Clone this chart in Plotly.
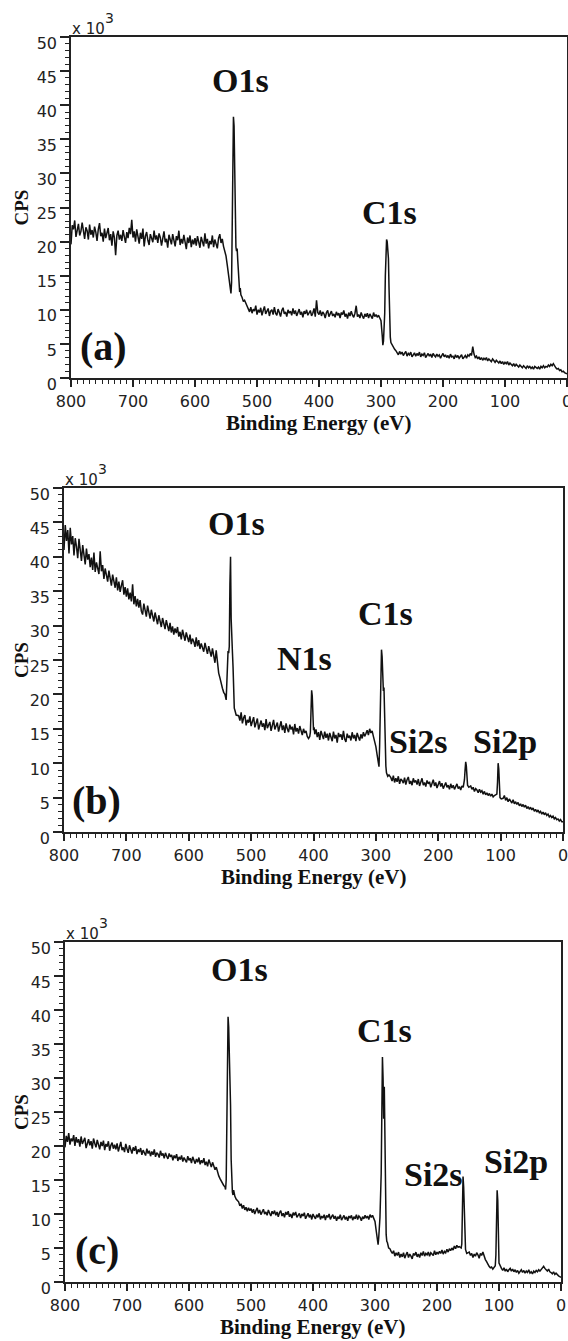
import plotly.graph_objects as go

# ---------------- data (counts in units of 10^3 CPS), background read every 2 eV ----------------
# Panel (a)
a_bg1_start = 800
a_bg1 = [19.6, 22.4, 21.8, 23.1, 20.7, 21.9, 22.6, 20.9, 21.5, 22.8,
         21.2, 20.4, 22.1, 21.6, 20.3, 22.5, 21.0, 21.7, 20.6, 22.2,
         21.4, 20.1, 21.8, 22.7, 20.8, 21.3, 20.0, 21.9, 20.5, 21.2,
         22.0, 20.2, 21.1, 19.4, 21.5, 20.6, 18.0, 20.9, 21.6, 20.3,
         21.0, 20.1, 21.7, 20.7, 19.8, 21.4, 20.5, 22.0, 21.1, 23.2,
         20.6, 21.5, 20.0, 21.8, 20.9, 19.7, 21.3, 20.4, 21.9, 19.3,
         20.8, 21.4, 20.2, 19.5, 21.1, 20.5, 19.9, 21.6, 20.3, 20.9,
         19.8, 21.2, 20.6, 19.4, 20.7, 21.5, 19.9, 20.4, 19.1, 21.0,
         20.3, 19.6, 21.1, 20.0, 19.3, 20.8, 20.2, 21.6, 19.5, 20.4,
         19.7, 21.0, 20.1, 18.9, 20.6, 19.8, 20.9, 19.2, 20.3, 19.6,
         20.5, 19.4, 20.8, 19.9, 19.1, 20.7, 20.0, 19.3, 21.2, 19.7,
         20.4, 19.0, 20.1, 19.6, 20.9, 19.2, 20.3, 19.8, 19.0, 20.5,
         21.1, 19.8, 20.4, 19.3, 18.6, 17.9, 16.6, 15.4, 14.0]
a_o1s_energy = [542, 541, 540, 539, 538, 537, 536, 535, 534, 533, 532, 531, 530, 529, 528, 527, 526, 524, 522]
a_o1s_cps = [12.4, 14.0, 20.0, 30.0, 38.3, 37.0, 30.0, 22.0, 19.2, 18.6, 19.0, 17.2, 15.0, 13.4, 12.6, 13.2, 12.2, 11.8, 11.2]
a_bg2_start = 520
a_bg2 = [11.4, 10.9, 10.6, 10.2, 9.7, 10.4, 9.5, 10.1, 9.8, 10.6,
         9.3, 10.0, 9.6, 10.3, 9.2, 9.9, 10.5, 9.4, 9.7, 10.2,
         9.1, 9.8, 10.0, 9.3, 10.4, 9.5, 9.2, 10.1, 9.6, 9.0,
         9.9, 10.3, 9.4, 9.7, 9.0, 10.0, 9.5, 9.8, 9.2, 10.2,
         9.4, 9.9, 9.1, 9.6, 10.1, 9.3, 9.7, 8.9, 9.8, 9.4,
         10.0, 9.2, 9.6, 9.9, 9.1, 9.5, 10.2, 9.0, 11.4, 9.6,
         9.3, 9.9, 9.1, 9.7, 9.4, 8.8, 9.6, 9.9, 9.0, 9.5,
         9.8, 9.1, 9.4, 8.9, 9.7, 9.2, 9.5, 8.8, 9.6, 9.3,
         9.9, 9.0, 9.4, 8.7, 9.6, 9.1, 9.8, 9.2, 8.9, 9.5,
         10.6, 9.0, 9.3, 8.8, 9.6, 9.1, 8.7, 9.4, 9.0, 9.5,
         8.8, 9.4, 9.1, 8.7, 9.6, 9.0, 9.3, 8.9, 9.2, 8.8, 8.4]
a_c1s_energy = [298, 297, 296, 295, 294, 293, 292, 291, 290, 289, 288, 287, 286, 285, 284, 282, 280, 278]
a_c1s_cps = [6.2, 4.8, 5.4, 7.0, 9.5, 15.0, 19.5, 20.3, 20.0, 19.2, 17.5, 13.0, 8.5, 6.0, 5.2, 4.8, 4.4, 4.2]
a_bg3_start = 276
a_bg3 = [4.0, 3.7, 3.4, 3.9, 3.5, 3.8, 3.3, 3.6, 3.9, 3.2,
         3.6, 3.4, 3.8, 3.1, 3.5, 3.7, 3.2, 3.6, 3.3, 3.8,
         3.1, 3.5, 3.3, 3.7, 3.0, 3.4, 3.6, 3.2, 3.5, 3.0,
         3.6, 3.3, 3.1, 3.5, 3.2, 3.4, 2.9, 3.3, 3.6, 3.1,
         3.4, 3.0, 3.3, 2.9, 3.5, 3.1, 3.2, 2.8, 3.4, 3.0,
         3.3, 2.9, 3.2, 3.4, 2.8, 3.1, 3.3, 2.9, 3.4, 3.2,
         3.6, 3.3, 4.6, 3.5, 3.0, 3.2, 2.8, 3.1, 2.7, 3.0,
         2.6, 2.9, 2.7, 3.0, 2.5, 2.8, 2.6, 2.4, 2.8, 2.5,
         2.3, 2.6, 2.4, 2.2, 2.5, 2.1, 2.4, 2.0, 2.3, 2.1,
         2.4, 1.9, 2.2, 2.0, 1.8, 2.1, 1.7, 2.0, 1.8, 1.6,
         1.9, 1.7, 1.5, 1.8, 1.6, 1.4, 1.8, 1.5, 1.7, 1.4,
         1.6, 1.3, 1.7, 1.5, 1.4, 1.6, 1.3, 1.7, 1.5, 1.8,
         1.5, 1.7, 1.6, 1.9, 1.7, 2.0, 1.8, 2.1, 1.7, 1.5,
         1.3, 1.4, 1.1, 1.2, 0.9, 1.0, 0.8, 0.7, 0.6]

# Panel (b)
b_bg1_start = 800
b_bg1 = [41.0, 44.6, 42.3, 43.9, 40.5, 44.2, 41.8, 43.0, 40.2, 42.7,
         41.5, 39.8, 42.6, 40.9, 39.4, 41.7, 40.3, 38.9, 41.2, 39.6,
         40.4, 38.5, 39.9, 38.1, 40.6, 37.8, 39.2, 38.4, 37.5, 40.8,
         37.9, 38.8, 36.8, 38.3, 37.2, 36.4, 38.0, 36.9, 35.8, 37.4,
         36.2, 35.5, 37.0, 35.1, 36.4, 34.9, 35.8, 36.6, 34.5, 35.6,
         34.2, 35.4, 33.8, 34.8, 33.5, 36.0, 33.1, 34.3, 32.8, 33.9,
         32.6, 33.7, 32.1, 31.6, 33.2, 32.4, 31.3, 32.9, 31.8, 31.0,
         32.3, 31.2, 30.6, 31.9, 30.9, 30.2, 31.5, 30.4, 29.8, 31.1,
         30.0, 29.5, 30.8, 29.7, 29.2, 30.4, 29.0, 29.9, 28.7, 29.6,
         28.9, 29.8, 28.4, 29.1, 28.0, 29.4, 28.6, 27.8, 29.0, 28.2,
         27.6, 28.7, 27.3, 28.1, 27.7, 26.9, 28.3, 27.0, 27.9, 26.6,
         27.4, 26.8, 26.2, 27.5, 26.4, 25.9, 27.0, 26.1, 25.5, 26.7,
         25.2, 24.6, 26.4, 24.2, 23.1, 22.4, 21.5, 20.9, 20.3]
b_o1s_energy = [542, 540, 539, 538, 537, 536, 535, 534, 533, 532, 531, 530, 529, 528, 527, 526, 524]
b_o1s_cps = [20.0, 19.2, 21.5, 26.0, 26.3, 26.0, 27.0, 36.0, 40.0, 31.0, 26.5, 26.2, 24.0, 19.5, 18.0, 17.7, 17.0]
b_bg2_start = 520
b_bg2 = [16.9, 16.2, 17.4, 15.8, 16.6, 17.0, 15.5, 16.3, 15.9, 16.8,
         15.4, 16.1, 16.7, 15.2, 15.9, 16.5, 14.9, 15.7, 16.2, 15.3,
         15.8, 14.8, 16.4, 15.1, 15.6, 16.0, 14.7, 15.5, 16.3, 14.9,
         15.4, 15.9, 14.6, 15.2, 16.1, 14.8, 15.5, 14.4, 15.8, 15.0,
         14.5, 15.6, 14.9, 15.3, 14.2, 15.7, 14.6, 15.1, 14.3, 15.4,
         14.8, 14.1, 15.0, 14.4, 14.7, 13.9, 13.6]
b_n1s_energy = [406, 405, 404, 403, 402, 401, 400, 399, 398]
b_n1s_cps = [13.9, 14.5, 17.0, 20.6, 19.8, 16.0, 14.8, 15.2, 14.2]
b_bg3_start = 396
b_bg3 = [14.9, 13.8, 14.5, 13.4, 14.7, 14.0, 13.5, 14.6, 13.7, 14.3,
         13.3, 14.4, 13.9, 13.2, 14.6, 13.6, 14.1, 13.0, 14.4, 13.8,
         14.2, 13.4, 14.7, 13.5, 13.1, 14.3, 13.7, 14.0, 13.3, 14.5,
         13.6, 14.1, 13.2, 14.4, 13.8, 13.3, 14.2, 13.6, 14.5, 13.9,
         14.3, 14.8, 14.1, 15.0, 14.4, 14.7, 13.9, 13.2, 12.4]
b_c1s_energy = [298, 296, 295, 294, 293, 292, 291, 290, 289, 288, 287, 286, 285, 284, 283, 281, 279]
b_c1s_cps = [11.2, 10.0, 9.5, 12.5, 17.0, 24.0, 26.5, 25.5, 22.0, 20.5, 21.0, 16.0, 12.0, 9.6, 8.6, 8.1, 8.3]
b_bg4_start = 276
b_bg4 = [7.9, 7.4, 8.2, 7.2, 7.8, 7.3, 8.1, 7.0, 7.7, 7.5,
         7.1, 7.9, 6.9, 7.6, 8.0, 7.0, 7.4, 6.8, 7.8, 7.2,
         7.5, 6.9, 7.7, 6.7, 7.3, 7.8, 6.8, 7.2, 6.6, 7.5,
         7.0, 7.3, 6.5, 7.1, 7.6, 6.7, 7.2, 6.4, 7.0, 7.4,
         6.6, 7.1, 6.3, 6.9, 7.2, 6.5, 6.8, 6.2, 7.0, 6.4,
         6.8, 6.2, 6.7, 7.0, 6.3, 6.6, 6.1, 6.7, 6.5]
b_si2s_energy = [158, 157, 156, 155, 154, 153, 151]
b_si2s_cps = [7.6, 9.0, 10.2, 9.6, 7.8, 6.8, 6.5]
b_bg5_start = 148
b_bg5 = [6.7, 6.2, 6.5, 5.9, 6.3, 6.1, 5.7, 6.2, 5.8, 6.0,
         5.5, 5.9, 5.4, 5.7, 5.3, 5.6, 5.2, 5.5, 5.1, 5.3, 5.4]
b_si2p_energy = [106, 105, 104, 103, 102, 101, 99]
b_si2p_cps = [5.5, 7.2, 10.0, 9.2, 6.5, 5.0, 4.8]
b_bg6_start = 96
b_bg6 = [4.9, 5.3, 4.6, 5.0, 4.4, 4.8, 4.5, 4.2, 4.7, 4.1,
         4.4, 4.0, 4.3, 3.8, 4.1, 3.7, 4.0, 3.6, 3.9, 3.4,
         3.7, 3.3, 3.6, 3.2, 3.5, 3.0, 3.3, 2.9, 3.2, 2.8,
         3.0, 2.6, 2.9, 2.5, 2.8, 2.4, 2.6, 2.2, 2.4, 2.1,
         2.3, 1.9, 2.1, 1.8, 1.9, 1.6, 1.8, 1.5, 1.5]

# Panel (c)
c_bg1_start = 800
c_bg1 = [19.8, 21.5, 20.6, 21.9, 20.2, 21.1, 20.7, 21.6, 20.0, 21.3,
         20.5, 21.0, 19.9, 21.4, 20.3, 20.8, 21.2, 19.7, 20.6, 21.0,
         20.1, 20.7, 19.6, 21.1, 20.4, 19.8, 20.9, 20.2, 19.5, 20.6,
         20.0, 20.8, 19.4, 20.3, 19.9, 20.7, 19.3, 20.1, 20.5, 19.6,
         20.2, 19.5, 20.4, 19.2, 19.9, 20.6, 19.4, 19.8, 19.1, 20.3,
         19.6, 19.0, 20.1, 19.5, 18.9, 19.8, 19.3, 20.0, 18.8, 19.5,
         19.1, 19.7, 18.7, 19.4, 19.0, 18.6, 19.6, 18.9, 19.3, 18.5,
         19.2, 18.7, 19.5, 18.4, 19.0, 18.8, 18.3, 19.3, 18.6, 18.9,
         18.2, 19.0, 18.5, 18.1, 18.9, 18.4, 18.7, 17.9, 18.6, 18.2,
         18.8, 17.8, 18.4, 18.0, 18.6, 17.7, 18.3, 18.0, 17.6, 18.5,
         17.9, 18.2, 17.5, 18.4, 17.8, 17.4, 18.1, 17.6, 18.3, 17.3,
         17.9, 17.5, 18.2, 17.2, 17.7, 17.0, 18.0, 17.4, 16.9, 17.6,
         17.1, 16.5, 16.9, 16.0, 15.6, 15.2, 14.8, 14.6, 14.2]
c_o1s_energy = [542, 541, 540, 539, 538, 537, 536, 535, 534, 533, 532, 531, 530, 529, 528, 526, 524]
c_o1s_cps = [14.0, 13.6, 15.0, 22.0, 34.0, 39.0, 37.5, 33.5, 34.0, 26.0, 18.0, 14.5, 13.2, 12.8, 13.5, 12.6, 12.2]
c_bg2_start = 520
c_bg2 = [11.8, 11.2, 11.5, 10.8, 11.3, 10.6, 11.0, 10.4, 10.9, 10.5,
         10.8, 10.2, 10.7, 10.0, 10.5, 10.9, 10.1, 10.6, 9.9, 10.4,
         10.7, 10.0, 10.3, 9.8, 10.6, 10.1, 9.7, 10.4, 10.0, 10.5,
         9.8, 10.3, 9.6, 10.2, 10.5, 9.7, 10.1, 9.5, 10.3, 9.9,
         10.4, 9.6, 10.0, 9.4, 10.2, 9.8, 10.3, 9.5, 9.9, 10.1,
         9.4, 10.0, 9.7, 10.2, 9.3, 9.8, 10.1, 9.5, 9.9, 9.2,
         10.0, 9.6, 9.3, 9.9, 9.5, 10.1, 9.2, 9.7, 9.4, 9.9,
         9.1, 9.8, 9.5, 10.0, 9.2, 9.6, 9.9, 9.3, 9.7, 9.0,
         9.6, 9.3, 9.9, 9.1, 9.5, 9.8, 9.2, 9.6, 9.0, 9.7,
         9.4, 9.8, 9.1, 9.6, 9.3, 9.9, 9.2, 9.7, 9.5, 9.0,
         9.6, 9.3, 9.8, 9.4, 9.7, 9.2, 9.9, 9.5, 9.8, 9.4, 8.9]
c_c1s_energy = [298, 296, 295, 294, 292, 290, 289, 288, 287, 286, 285, 284, 283, 282, 281, 280, 278]
c_c1s_cps = [7.5, 5.7, 5.5, 6.5, 9.5, 16.0, 25.0, 33.1, 30.0, 24.0, 28.7, 20.0, 11.0, 7.0, 6.0, 5.8, 5.0]
c_bg3_start = 276
c_bg3 = [4.9, 4.5, 4.2, 4.6, 3.8, 4.3, 3.9, 4.4, 3.6, 4.1,
         3.7, 4.3, 3.5, 4.0, 4.4, 3.6, 4.1, 3.8, 3.4, 4.2,
         3.9, 4.4, 3.7, 4.1, 3.6, 4.3, 3.9, 4.5, 3.8, 4.2,
         4.0, 4.4, 3.8, 4.3, 4.1, 3.9, 4.6, 4.0, 4.4, 4.1,
         4.5, 4.2, 4.7, 4.1, 4.5, 4.3, 4.8, 4.4, 4.9, 4.6,
         5.0, 4.7, 5.3, 4.9, 5.4, 5.1, 5.2]
c_si2s_energy = [161, 160, 159, 158, 157, 156, 155, 154, 152]
c_si2s_cps = [5.0, 5.6, 9.0, 15.5, 14.0, 9.5, 6.0, 4.8, 4.2]
c_bg4_start = 148
c_bg4 = [4.4, 3.9, 4.2, 3.6, 4.1, 3.8, 4.3, 4.0, 3.5, 4.2,
         3.9, 4.4, 3.7, 3.3, 3.0, 2.6, 2.3, 2.1, 2.2, 1.9, 2.1]
c_si2p_energy = [106, 105, 104, 103, 102, 101, 100]
c_si2p_cps = [2.4, 4.0, 9.0, 13.5, 12.0, 6.0, 2.8]
c_bg5_start = 96
c_bg5 = [2.0, 1.7, 2.1, 1.6, 1.9, 1.5, 1.8, 2.0, 1.6, 1.9,
         1.5, 1.8, 1.4, 1.7, 1.3, 1.6, 1.8, 1.4, 1.7, 1.3,
         1.6, 1.4, 1.8, 1.3, 1.5, 1.2, 1.6, 1.4, 1.7, 1.5,
         1.8, 1.6, 1.9, 2.1, 2.3, 2.0, 1.8, 1.6, 1.9, 1.5,
         1.4, 1.2, 1.5, 1.1, 1.3, 1.0, 0.9, 0.8, 0.7]

x_ticks = [800, 700, 600, 500, 400, 300, 200, 100, 0]
y_ticks = [0, 5, 10, 15, 20, 25, 30, 35, 40, 45, 50]
panel_tags = ["(a)", "(b)", "(c)"]
peak_labels = {
    1: [("O1s", 527, 43.6), ("C1s", 287, 24.3)],
    2: [("O1s", 524, 44.8), ("N1s", 414, 25.2), ("C1s", 284, 31.8), ("Si2s", 232, 13.2), ("Si2p", 93, 13.2)],
    3: [("O1s", 518, 46.0), ("C1s", 284, 37.0), ("Si2s", 205, 15.8), ("Si2p", 73, 17.7)],
}


def grid(start, vals):
    # background samples are spaced 2 eV apart, starting at `start`
    return [start - 2 * k for k in range(len(vals))]


a_energy = (grid(a_bg1_start, a_bg1) + a_o1s_energy + grid(a_bg2_start, a_bg2) + a_c1s_energy
            + grid(a_bg3_start, a_bg3))
a_cps = a_bg1 + a_o1s_cps + a_bg2 + a_c1s_cps + a_bg3
b_energy = (grid(b_bg1_start, b_bg1) + b_o1s_energy + grid(b_bg2_start, b_bg2) + b_n1s_energy
            + grid(b_bg3_start, b_bg3) + b_c1s_energy + grid(b_bg4_start, b_bg4) + b_si2s_energy
            + grid(b_bg5_start, b_bg5) + b_si2p_energy + grid(b_bg6_start, b_bg6))
b_cps = b_bg1 + b_o1s_cps + b_bg2 + b_n1s_cps + b_bg3 + b_c1s_cps + b_bg4 + b_si2s_cps + b_bg5 + b_si2p_cps + b_bg6
c_energy = (grid(c_bg1_start, c_bg1) + c_o1s_energy + grid(c_bg2_start, c_bg2) + c_c1s_energy
            + grid(c_bg3_start, c_bg3) + c_si2s_energy + grid(c_bg4_start, c_bg4) + c_si2p_energy
            + grid(c_bg5_start, c_bg5))
c_cps = c_bg1 + c_o1s_cps + c_bg2 + c_c1s_cps + c_bg3 + c_si2s_cps + c_bg4 + c_si2p_cps + c_bg5

# ---------------- layout geometry (pixels) ----------------
W, H = 568, 1341


def px(x):
    return x / W


def py(y):
    return 1 - y / H


boxes = {  # left, right, top, bottom of each plot frame
    1: (71, 567, 37, 378),
    2: (64, 563, 488, 832),
    3: (65, 561, 942, 1282),
}

fig = go.Figure()
for i, (e, c) in enumerate([(a_energy, a_cps), (b_energy, b_cps), (c_energy, c_cps)], start=1):
    fig.add_trace(go.Scatter(x=e, y=c, mode="lines", line=dict(color="#111", width=1.5),
                             xaxis="x" if i == 1 else f"x{i}", yaxis="y" if i == 1 else f"y{i}",
                             showlegend=False, hoverinfo="skip"))

tick_font = dict(family="DejaVu Sans", size=16, color="#222")
serif_b = "Liberation Serif"
annotations = []
layout = dict(width=W, height=H, margin=dict(l=0, r=0, t=0, b=0, autoexpand=False),
              paper_bgcolor="white", plot_bgcolor="white", showlegend=False)

for i in (1, 2, 3):
    l, r, t, b = boxes[i]
    xk = "xaxis" if i == 1 else f"xaxis{i}"
    yk = "yaxis" if i == 1 else f"yaxis{i}"
    xref = "x" if i == 1 else f"x{i}"
    yref = "y" if i == 1 else f"y{i}"
    layout[xk] = dict(domain=[px(l), px(r)], anchor=yref, range=[800, 0],
                      tickvals=x_ticks, ticktext=[str(v) for v in x_ticks],
                      ticks="outside", ticklen=7, tickwidth=1.5, tickcolor="#222",
                      minor=dict(ticks="outside", ticklen=4, tickwidth=1, tickcolor="#222", dtick=10, showgrid=False),
                      showline=True, linecolor="#222", linewidth=1.5, mirror=True,
                      showgrid=False, zeroline=False, tickfont=tick_font,
                      ticklabelstandoff=1, ticklabeloverflow="allow")
    layout[yk] = dict(domain=[py(b), py(t)], anchor=xref, range=[0, 50],
                      tickvals=y_ticks, ticktext=[str(v) for v in y_ticks],
                      ticks="outside", ticklen=9, tickwidth=1.5, tickcolor="#222",
                      minor=dict(ticks="outside", ticklen=4, tickwidth=1, tickcolor="#222", dtick=1, showgrid=False),
                      showline=True, linecolor="#222", linewidth=1.5, mirror=True,
                      showgrid=False, zeroline=False, tickfont=tick_font,
                      ticklabelshift=6, ticklabelstandoff=0, ticklabeloverflow="allow")
    # x 10^3 multiplier
    annotations.append(dict(text="x 10", x=px(l - 1), y=py(t - 8), xref="paper", yref="paper",
                            xanchor="left", yanchor="middle", showarrow=False,
                            font=dict(family="DejaVu Sans", size=15, color="#222")))
    annotations.append(dict(text="3", x=px(l + 32), y=py(t - 19), xref="paper", yref="paper",
                            xanchor="left", yanchor="middle", showarrow=False,
                            font=dict(family="DejaVu Sans", size=14, color="#222")))
    # axis titles
    annotations.append(dict(text="<b>Binding Energy (eV)</b>", x=px((l + r) / 2), y=py(b + 45),
                            xref="paper", yref="paper", xanchor="center", yanchor="middle", showarrow=False,
                            font=dict(family=serif_b, size=21, color="#111")))
    annotations.append(dict(text="<b>CPS</b>", x=px(21), y=py((t + b) / 2), xref="paper", yref="paper",
                            xanchor="center", yanchor="middle", textangle=-90, showarrow=False,
                            font=dict(family=serif_b, size=19, color="#111")))
    # panel tag
    annotations.append(dict(text=f"<b>{panel_tags[i-1]}</b>", x=748, y=4.6, xref=xref, yref=yref,
                            xanchor="center", yanchor="middle", showarrow=False,
                            font=dict(family=serif_b, size=40, color="#111")))
    for txt, ex, ey in peak_labels[i]:
        annotations.append(dict(text=f"<b>{txt}</b>", x=ex, y=ey, xref=xref, yref=yref,
                                xanchor="center", yanchor="middle", showarrow=False,
                                font=dict(family=serif_b, size=34, color="#111")))

layout["annotations"] = annotations
fig.update_layout(**layout)
fig.write_html("out.html", config={"displayModeBar": False},
               post_script="document.body.style.margin='0';document.body.style.overflow='hidden';")
